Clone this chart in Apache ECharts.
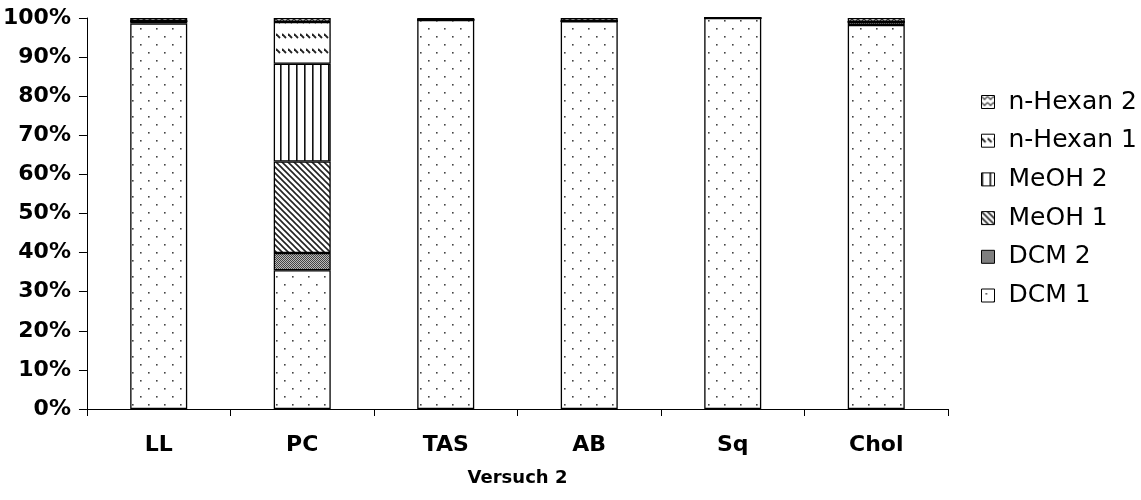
<!DOCTYPE html>
<html>
<head>
<meta charset="utf-8">
<script src="https://cdn.jsdelivr.net/npm/echarts@6/dist/echarts.min.js"></script>
<style>
  html, body { margin: 0; padding: 0; background: #fff; }
  #chart { width: 1141px; height: 500px; }
</style>
</head>
<body>
<div id="chart"></div>
<script>
// Categories and per-fraction percentages
const categories = ['LL', 'PC', 'TAS', 'AB', 'Sq', 'Chol'];
const seriesNames = ['DCM 1', 'DCM 2', 'MeOH 1', 'MeOH 2', 'n-Hexan 1', 'n-Hexan 2'];
const dcm1    = [98.6, 35.5, 99.5, 99.2, 100, 98.2];
const dcm2    = [0.6, 4.4, 0, 0, 0, 0.8];
const meoh1   = [0, 23.4, 0, 0, 0, 0];
const meoh2   = [0, 25.0, 0, 0, 0, 0];
const nhexan1 = [0, 10.7, 0, 0, 0, 0];
const nhexan2 = [0.8, 1.0, 0.5, 0.8, 0, 1.0];
const yTicks = [0, 10, 20, 30, 40, 50, 60, 70, 80, 90, 100];

const seriesValues = [dcm1, dcm2, meoh1, meoh2, nhexan1, nhexan2];

// Fill patterns drawn on small canvases
function makePattern(w, h, draw) {
  const c = document.createElement('canvas');
  c.width = w; c.height = h;
  const ctx = c.getContext('2d');
  ctx.fillStyle = '#fff';
  ctx.fillRect(0, 0, w, h);
  draw(ctx);
  return { image: c, repeat: 'repeat' };
}

const patterns = [
  // sparse staggered dots
  makePattern(16, 16, ctx => {
    ctx.fillStyle = '#444';
    ctx.fillRect(4, 4, 1.6, 1.6);
    ctx.fillRect(12, 12, 1.6, 1.6);
  }),
  // fine speckled checker
  makePattern(2, 2, ctx => {
    ctx.fillStyle = '#444';
    ctx.fillRect(0, 0, 1, 1);
    ctx.fillRect(1, 1, 1, 1);
    ctx.fillStyle = '#bbb';
    ctx.fillRect(1, 0, 1, 1);
    ctx.fillRect(0, 1, 1, 1);
  }),
  // dense backslash stripes
  makePattern(6, 6, ctx => {
    ctx.strokeStyle = '#222';
    ctx.lineWidth = 1.6;
    ctx.beginPath();
    ctx.moveTo(-1, -1); ctx.lineTo(7, 7);
    ctx.moveTo(-1, 5); ctx.lineTo(1, 7);
    ctx.moveTo(5, -1); ctx.lineTo(7, 1);
    ctx.stroke();
  }),
  // vertical lines
  makePattern(8, 4, ctx => {
    ctx.fillStyle = '#111';
    ctx.fillRect(0, 0, 1.6, 4);
  }),
  // rows of short backslash dashes
  makePattern(6, 15, ctx => {
    ctx.strokeStyle = '#222';
    ctx.lineWidth = 1.8;
    ctx.beginPath();
    ctx.moveTo(0, 4); ctx.lineTo(4, 8);
    ctx.stroke();
  }),
  // chevron weave
  makePattern(6, 6, ctx => {
    ctx.strokeStyle = '#333';
    ctx.lineWidth = 1.2;
    ctx.beginPath();
    ctx.moveTo(0, 1); ctx.lineTo(3, 4); ctx.lineTo(6, 1);
    ctx.stroke();
  })
];

const chart = echarts.init(document.getElementById('chart'));
const fontFamily = '"DejaVu Sans", "Liberation Sans", Arial, sans-serif';

const series = seriesNames.map((name, i) => ({
  name: name,
  type: 'bar',
  stack: 'total',
  barWidth: 57,
  data: seriesValues[i],
  itemStyle: {
    color: patterns[i],
    borderColor: '#000',
    borderWidth: 1.3
  },
  emphasis: { disabled: true }
}));

chart.setOption({
  animation: false,
  backgroundColor: '#fff',
  textStyle: { fontFamily: fontFamily, color: '#000' },
  grid: { left: 86, right: 193, top: 18, bottom: 91 },
  legend: {
    orient: 'vertical',
    left: 981,
    top: 89,
    padding: 0,
    data: seriesNames.slice().reverse(),
    icon: 'rect',
    itemWidth: 13,
    itemHeight: 13,
    itemGap: 12.7,
    itemStyle: { borderColor: '#000', borderWidth: 1 },
    textStyle: { fontSize: 25, color: '#000', fontFamily: fontFamily, lineHeight: 26, padding: [0, 0, 0, 9] }
  },
  xAxis: {
    type: 'category',
    data: categories,
    name: 'Versuch 2',
    nameLocation: 'middle',
    nameGap: 60,
    nameTextStyle: { fontSize: 18, fontWeight: 'bold', color: '#000', fontFamily: fontFamily },
    axisLine: { lineStyle: { color: '#000', width: 1 } },
    axisTick: { show: true, length: 7, lineStyle: { color: '#000' } },
    axisLabel: { fontSize: 22, fontWeight: 'bold', color: '#000', margin: 25, fontFamily: fontFamily },
    splitLine: { show: false }
  },
  yAxis: {
    type: 'value',
    min: yTicks[0],
    max: yTicks[yTicks.length - 1],
    interval: yTicks[1] - yTicks[0],
    axisLine: { show: true, lineStyle: { color: '#000', width: 1 } },
    axisTick: { show: true, length: 8, lineStyle: { color: '#000' } },
    axisLabel: { fontSize: 22, fontWeight: 'bold', color: '#000', margin: 16, fontFamily: fontFamily, formatter: v => v + '%' },
    splitLine: { show: false }
  },
  series: series
});
</script>
</body>
</html>
